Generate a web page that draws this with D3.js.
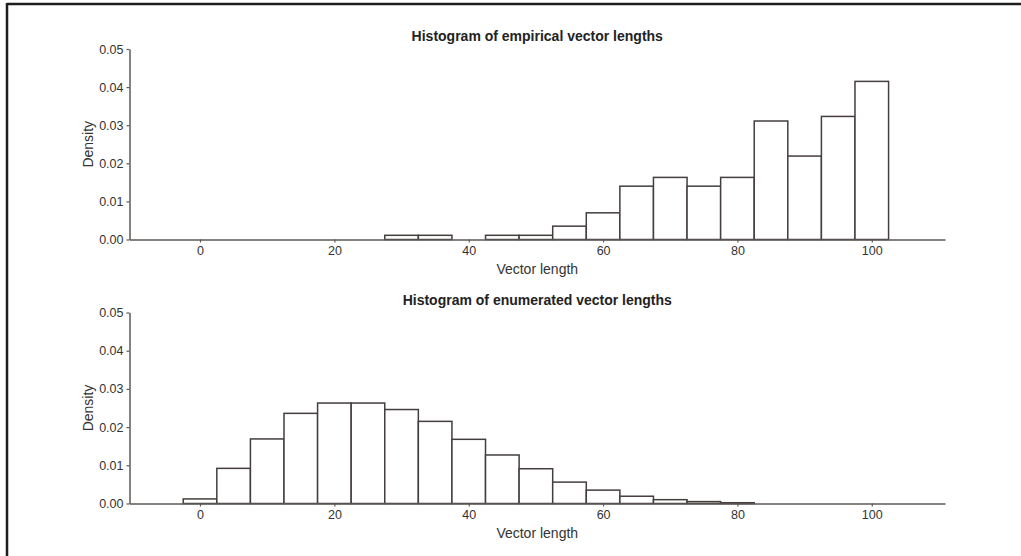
<!DOCTYPE html>
<html>
<head>
<meta charset="utf-8">
<script src="https://cdn.jsdelivr.net/npm/d3@7"></script>
<style>
  html, body { margin: 0; padding: 0; background: #fff; }
  svg { display: block; font-family: "Liberation Sans", Arial, sans-serif; }
</style>
</head>
<body>
<div id="chart"></div>
<script>
// bin centres (width 5)
const binCenters = [0, 5, 10, 15, 20, 25, 30, 35, 40, 45, 50, 55, 60, 65, 70, 75, 80, 85, 90, 95, 100];
const empiricalDensity = [0, 0, 0, 0, 0, 0, 0.0011, 0.0011, 0, 0.0011, 0.0011, 0.0035, 0.0070, 0.0140, 0.0163, 0.0140, 0.0163, 0.0311, 0.0219, 0.0323, 0.0415];
const enumeratedDensity = [0.0012, 0.0092, 0.0169, 0.0236, 0.0263, 0.0263, 0.0246, 0.0215, 0.0168, 0.0127, 0.0091, 0.0056, 0.0035, 0.0019, 0.0010, 0.0005, 0.0002, 0, 0, 0, 0];
const xTicks = [0, 20, 40, 60, 80, 100];
const yTicks = [0, 0.01, 0.02, 0.03, 0.04, 0.05];
const titles = ["Histogram of empirical vector lengths", "Histogram of enumerated vector lengths"];
const binWidth = 5;

const W = 1021, H = 556;
const svg = d3.select("#chart").append("svg")
    .attr("width", W)
    .attr("height", H);

// outer frame (top + left only, as in the source image)
svg.append("line").attr("x1", 7).attr("x2", W).attr("y1", 4).attr("y2", 4)
    .attr("stroke", "#1e1e1e").attr("stroke-width", 2.5);
svg.append("line").attr("x1", 7).attr("x2", 7).attr("y1", 3).attr("y2", H)
    .attr("stroke", "#1e1e1e").attr("stroke-width", 2.5);

const axisColor = "#5e5856";
const barColor = "#443e3e";
const textColor = "#333";

const x = d3.scaleLinear().domain([-10.5, 110.9]).range([129.5, 945]);

function drawPanel(values, title, top, bottom) {
    const y = d3.scaleLinear().domain([0, 0.05]).range([bottom, top]);
    const g = svg.append("g");

    const bins = binCenters.map((c, i) => ({ c, v: values[i] })).filter(d => d.v > 0);

    g.selectAll("rect.bar")
        .data(bins)
        .enter().append("rect")
        .attr("class", "bar")
        .attr("x", d => x(d.c - binWidth / 2))
        .attr("y", d => y(d.v))
        .attr("width", d => x(d.c + binWidth / 2) - x(d.c - binWidth / 2))
        .attr("height", d => bottom - y(d.v))
        .attr("fill", "#fff")
        .attr("stroke", barColor)
        .attr("stroke-width", 1.5);

    const xAxis = g.append("g")
        .attr("transform", `translate(0,${bottom})`)
        .call(d3.axisBottom(x).tickValues(xTicks).tickSize(3).tickPadding(4).tickSizeOuter(0));
    const yAxis = g.append("g")
        .attr("transform", `translate(${x.range()[0]},0)`)
        .call(d3.axisLeft(y).tickValues(yTicks).tickFormat(d3.format(".2f")).tickSize(3).tickPadding(3).tickSizeOuter(0));

    [xAxis, yAxis].forEach(a => {
        a.select(".domain").attr("stroke", axisColor).attr("stroke-width", 1.5);
        a.selectAll(".tick line").attr("stroke", axisColor).attr("stroke-width", 1.2);
        a.selectAll(".tick text").attr("fill", textColor)
            .style("font-size", "12.5px")
            .style("font-family", "'Liberation Sans', Arial, sans-serif");
    });

    const cx = (x.range()[0] + x.range()[1]) / 2;
    g.append("text")
        .attr("x", cx).attr("y", top - 8)
        .attr("text-anchor", "middle")
        .attr("fill", "#222")
        .style("font-size", "14px").style("font-weight", "bold")
        .text(title);

    g.append("text")
        .attr("x", cx).attr("y", bottom + 34)
        .attr("text-anchor", "middle")
        .attr("fill", textColor)
        .style("font-size", "14px")
        .text("Vector length");

    g.append("text")
        .attr("transform", `translate(93,${(top + bottom) / 2}) rotate(-90)`)
        .attr("text-anchor", "middle")
        .attr("fill", textColor)
        .style("font-size", "14px")
        .text("Density");
}

drawPanel(empiricalDensity, titles[0], 49, 239.5);
drawPanel(enumeratedDensity, titles[1], 312.5, 503.5);
</script>
</body>
</html>
